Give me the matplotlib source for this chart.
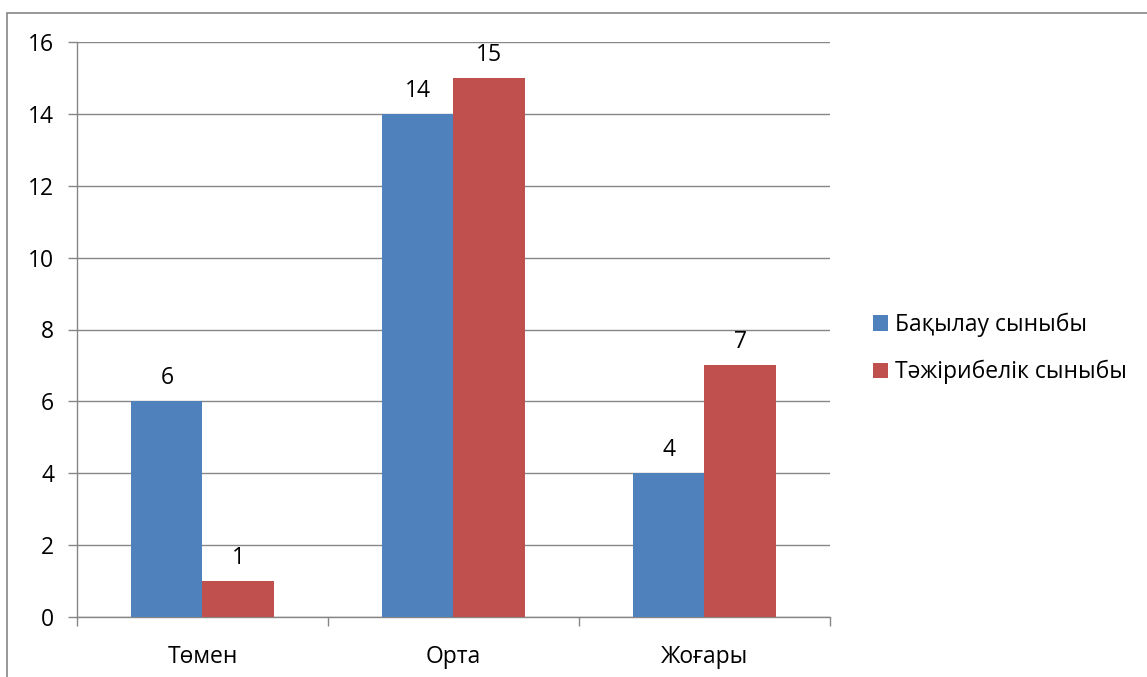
import matplotlib
matplotlib.use("Agg")
import matplotlib.pyplot as plt
from matplotlib.patches import Rectangle
from matplotlib.ticker import FixedLocator, NullFormatter

plt.rcParams['font.family'] = ['Open Sans', 'DejaVu Sans']

categories = ["Төмен", "Орта", "Жоғары"]
series_names = ["Бақылау сыныбы", "Тәжірибелік сыныбы"]
control = [6, 14, 4]
experimental = [1, 15, 7]
colors = ["#4F81BD", "#C0504D"]
yticks = [0, 2, 4, 6, 8, 10, 12, 14, 16]

W, H = 1147, 677
fig = plt.figure(figsize=(W/100, H/100), dpi=100)
ax = fig.add_axes([77/W, 1-617/H, (830-77)/W, (617-42)/H])

# outer chart border (extends beyond right/bottom edges)
fig.patches.append(Rectangle((7.5/W, -0.1), 1.2, 1-13/H+0.1, transform=fig.transFigure,
                             fill=False, edgecolor="#868686", linewidth=1.2, clip_on=False))

FS = 16.5
w = 0.283
x = range(len(categories))
vals = [control, experimental]
for i, (name, v) in enumerate(zip(series_names, vals)):
    pos = [xi + (i - 0.5) * w for xi in x]
    ax.bar(pos, v, width=w, color=colors[i], label=name, zorder=3)
    for p, val in zip(pos, v):
        ax.annotate(str(val), (p, val), xytext=(0, 8), textcoords="offset points",
                    ha="center", va="bottom", fontsize=FS, color="black")

ax.set_xlim(-0.5, 2.5)
ax.set_ylim(0, 16)
ax.set_yticks(yticks)
ax.yaxis.grid(True, color="#868686", linewidth=1, zorder=0)
ax.set_axisbelow(True)

ax.xaxis.set_major_locator(FixedLocator([-0.5, 0.5, 1.5, 2.5]))
ax.xaxis.set_major_formatter(NullFormatter())
ax.xaxis.set_minor_locator(FixedLocator(list(x)))
ax.set_xticklabels(categories, minor=True)
ax.tick_params(axis="x", which="major", length=6.5, color="#868686", width=1)
ax.tick_params(axis="x", which="minor", length=0, pad=20, labelsize=FS)
ax.tick_params(axis="y", length=6.5, color="#868686", width=1, labelsize=FS, pad=10)

for s in ["top", "right"]:
    ax.spines[s].set_visible(False)
for s in ["left", "bottom"]:
    ax.spines[s].set_color("#868686")
    ax.spines[s].set_linewidth(1)

fig.legend(loc="center left", bbox_to_anchor=(873/W, 1-348.5/H), frameon=False,
           fontsize=FS, handlelength=0.64, handleheight=0.64, handletextpad=0.33,
           labelspacing=1.0, borderpad=0, borderaxespad=0)

fig.savefig("out.png", dpi=100)
